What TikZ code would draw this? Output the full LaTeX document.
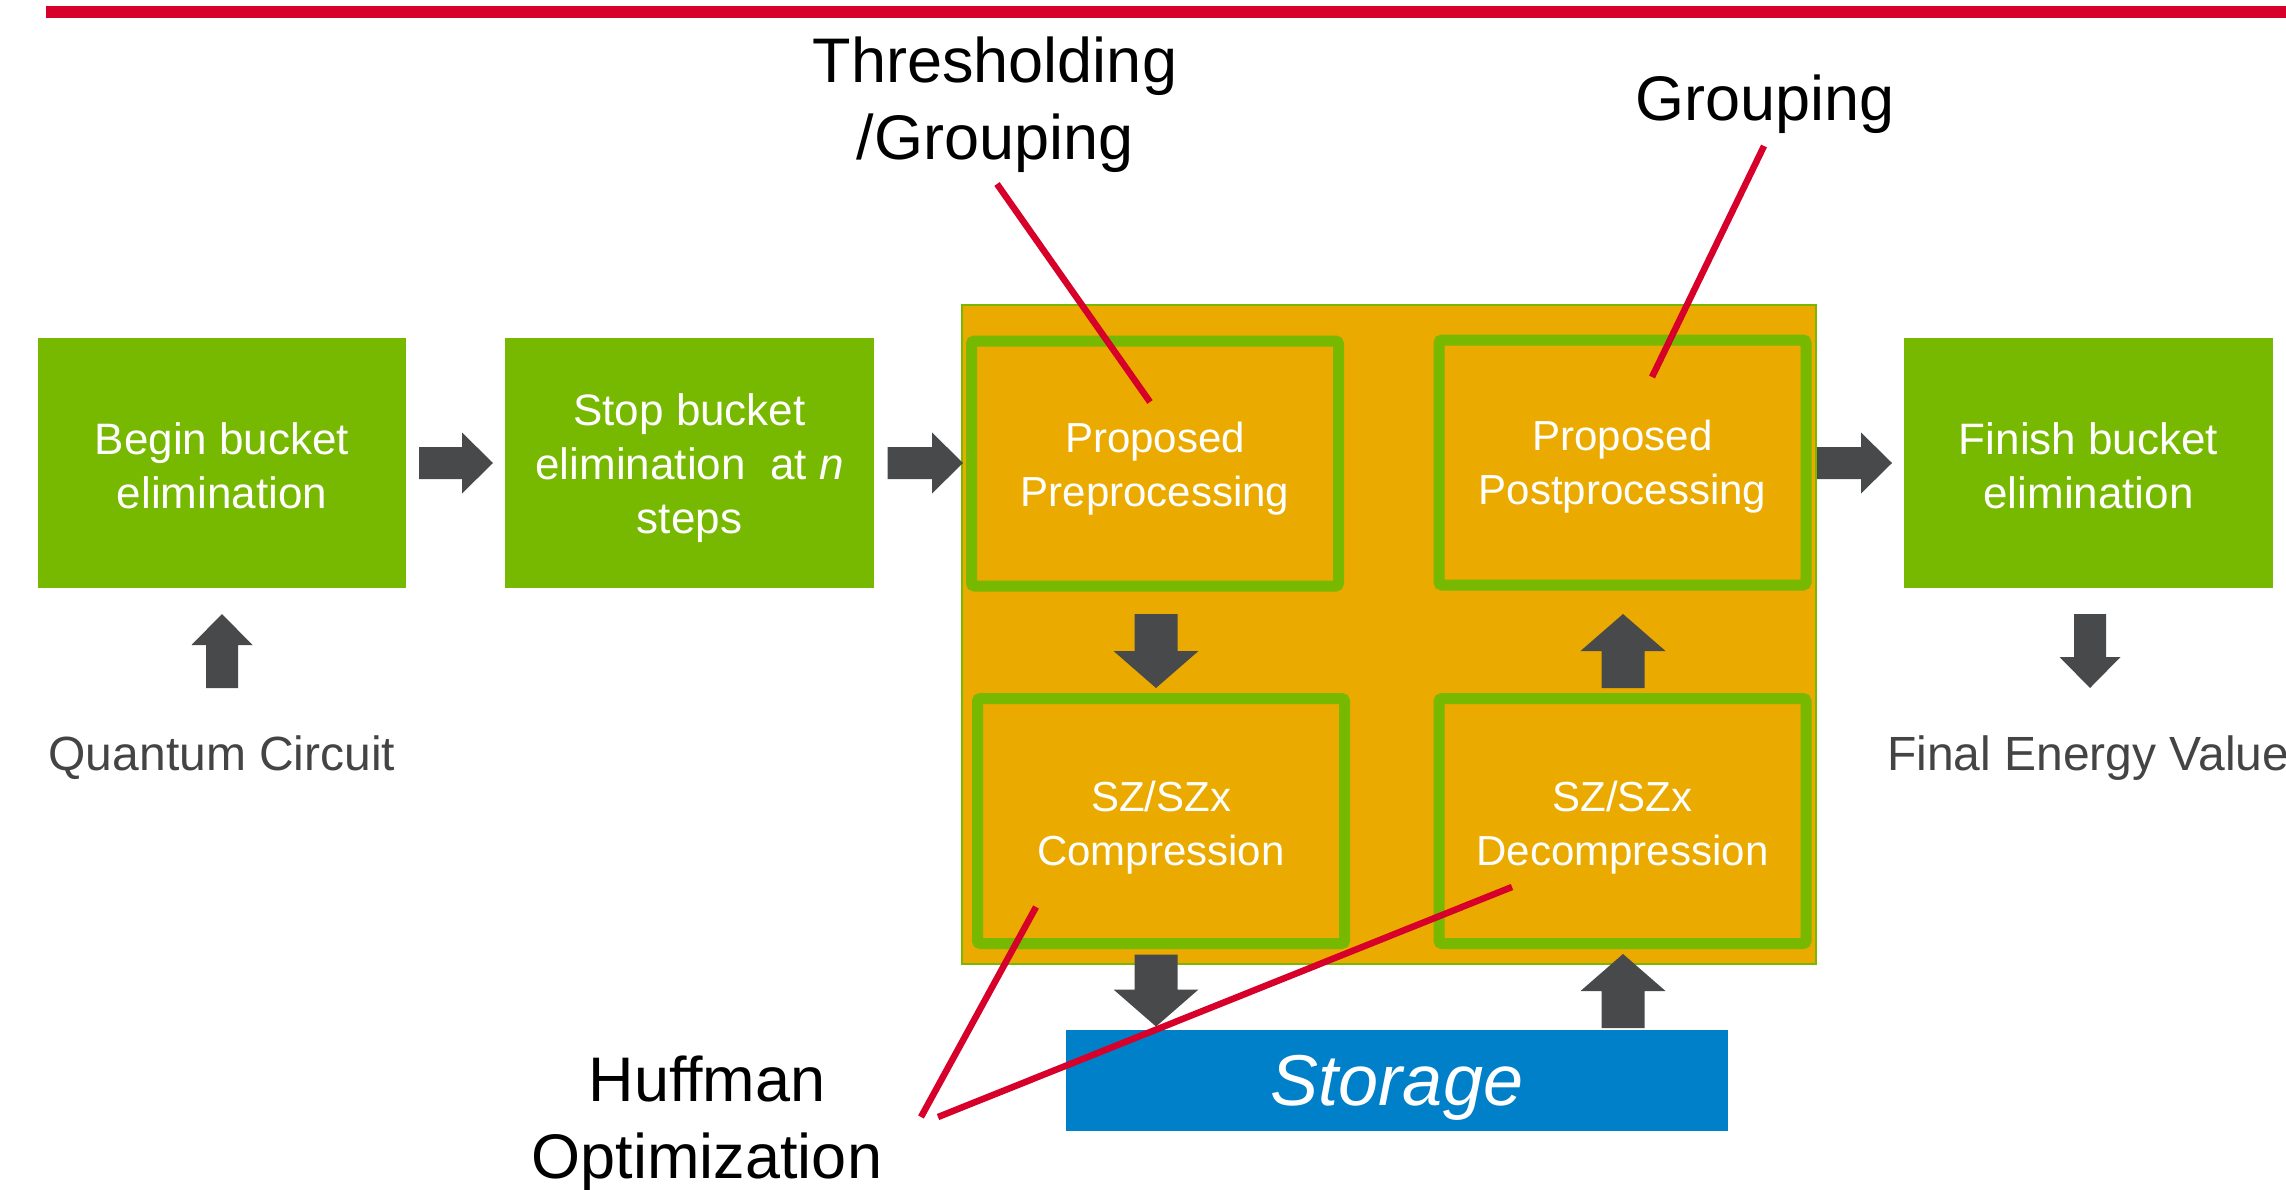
\documentclass[tikz,border=0pt]{standalone}
\usepackage{fontspec}
\setmainfont{Liberation Sans}
\usetikzlibrary{calc}
\definecolor{nvgreen}{RGB}{118,185,0}
\definecolor{boxorange}{RGB}{234,170,0}
\definecolor{storblue}{RGB}{0,128,200}
\definecolor{arrgray}{RGB}{72,73,75}
\definecolor{leadred}{RGB}{214,0,42}
\definecolor{txtgray}{RGB}{68,68,68}
% block arrow: #1 start, #2 tip, #3 shaft half width, #4 head half width, #5 head length
\newcommand\blockarrow[5]{%
  \coordinate (ba-h) at ($(#2)!#5!(#1)$);
  \fill[arrgray] ($(#1)!#3!90:(#2)$) -- ($(ba-h)!#3!-90:(#1)$) -- ($(ba-h)!#4!-90:(#1)$)
    -- (#2) -- ($(ba-h)!#4!90:(#1)$) -- ($(ba-h)!#3!90:(#1)$) -- ($(#1)!#3!-90:(#2)$) -- cycle;
}
% invisible strut that sets the height of a first text line
\newcommand\topstrut[1]{\rule{0pt}{#1}}
\begin{document}
\begin{tikzpicture}[x=1pt,y=-1pt,
  greenbox/.style={fill=nvgreen, minimum width=369pt, minimum height=250pt, inner sep=0pt, outer sep=0pt,
    text=white, align=center, font=\fontsize{44}{54}\selectfont},
  subbox/.style={draw=nvgreen, line width=11pt, fill=boxorange, rounded corners=3pt,
    minimum width=367pt, minimum height=245pt, inner sep=0pt, outer sep=0pt,
    text=white, align=center, font=\fontsize{42}{54}\selectfont},
  calltext/.style={text=black, align=center, font=\fontsize{63}{77}\selectfont, inner sep=0pt},
  iotext/.style={text=txtgray, font=\fontsize{48}{58}\selectfont, inner sep=0pt},
  leader/.style={draw=leadred, line width=6.5pt}]
\useasboundingbox (0,0) rectangle (2286,1190);
\fill[leadred] (46,6) rectangle (2286,18);

% main boxes
\node[greenbox, minimum width=368pt] (b1) at (222,463) {\topstrut{37.5pt}Begin bucket\\elimination};
\node[greenbox] (b2) at (689.5,463) {\topstrut{41.5pt}Stop bucket\\elimination~ at \textit{n}\\steps};
\node[greenbox] (b5) at (2088.5,463) {\topstrut{37.5pt}Finish bucket\\elimination};

\node[draw=nvgreen, line width=2pt, fill=boxorange, minimum width=854pt, minimum height=659pt,
  inner sep=0pt, outer sep=0pt] (cont) at (1389,634.5) {};
\node[subbox] (pre) at (1155,463.5) {\topstrut{40pt}Proposed\\Preprocessing};
\node[subbox] (post) at (1622.5,462.5) {\topstrut{39pt}Proposed\\Postprocessing};
\node[subbox] (comp) at (1161,821) {\topstrut{43.5pt}SZ/SZx\\Compression};
\node[subbox] (decomp) at (1622.5,821) {\topstrut{43.5pt}SZ/SZx\\Decompression};

\node[fill=storblue, minimum width=662pt, minimum height=101pt, inner sep=0pt, outer sep=0pt,
  text=white, font=\fontsize{72}{86}\selectfont\itshape, text depth=0pt] (stor) at (1397,1080.5) {Storage};

\node[iotext, anchor=base] (qc) at (222,770) {Quantum Circuit};
\node[iotext, anchor=base west] (fev) at (1887,770) {Final Energy Value};

\node[calltext] (thr) at (995,105) {Thresholding\\/Grouping};
\node[calltext, anchor=base] (grp) at (1765,120.6) {Grouping};
\node[calltext] (huf) at (707,1123.5) {Huffman\\Optimization};

% arrows
\coordinate (a1s) at ($(b1.east)+(13,0)$);
\coordinate (a1e) at ($(b2.west)+(-12,0)$);
\coordinate (a2s) at ($(b2.east)+(13.5,0)$);
\coordinate (a2e) at ($(b2.east -| cont.west)+(1,0)$);
\coordinate (a3s) at ($(b5.west -| cont.east)+(1,0)$);
\coordinate (a3e) at ($(b5.west)+(-12,0)$);
\coordinate (u1s) at ($(b1.south)+(0,100)$);
\coordinate (u1e) at ($(b1.south)+(0,26)$);
\coordinate (d5s) at ($(b5.south)+(1.5,26)$);
\coordinate (d5e) at ($(b5.south)+(1.5,100)$);
\coordinate (pcs) at ($(pre.south)+(1,28)$);
\coordinate (pce) at ($(pre.south)+(1,102)$);
\coordinate (dps) at ($(decomp.north)+(0.5,-10.5)$);
\coordinate (dpe) at ($(decomp.north)+(0.5,-84.5)$);
\coordinate (css) at ($(comp.south)+(-5,11)$);
\coordinate (cse) at ($(comp.south)+(-5,83)$);
\coordinate (sds) at ($(decomp.south)+(0.5,84.5)$);
\coordinate (sde) at ($(decomp.south)+(0.5,10.5)$);

\blockarrow{a1s}{a1e}{16pt}{30.5pt}{31pt}
\blockarrow{a2s}{a2e}{16pt}{30.5pt}{31pt}
\blockarrow{a3s}{a3e}{16pt}{30.5pt}{31pt}
\blockarrow{u1s}{u1e}{16pt}{30.5pt}{31pt}
\blockarrow{d5s}{d5e}{16pt}{30.5pt}{31pt}
\blockarrow{pcs}{pce}{21.5pt}{42.5pt}{37pt}
\blockarrow{dps}{dpe}{21.5pt}{42.5pt}{37pt}
\blockarrow{css}{cse}{21.5pt}{42.5pt}{37pt}
\blockarrow{sds}{sde}{21.5pt}{42.5pt}{37pt}

% leader lines
\coordinate (thrA) at (997,184);
\coordinate (thrB) at (1150,402);
\coordinate (grpA) at (1764,146);
\coordinate (grpB) at (1652,377);
\coordinate (hufA) at (921,1117);
\coordinate (hufB) at (1036,907);
\coordinate (hufC) at (938,1117);
\coordinate (hufD) at (1512,887);
\draw[leader] (thrA) -- (thrB);
\draw[leader] (grpA) -- (grpB);
\draw[leader] (hufA) -- (hufB);
\draw[leader] (hufC) -- (hufD);
\end{tikzpicture}
\end{document}
